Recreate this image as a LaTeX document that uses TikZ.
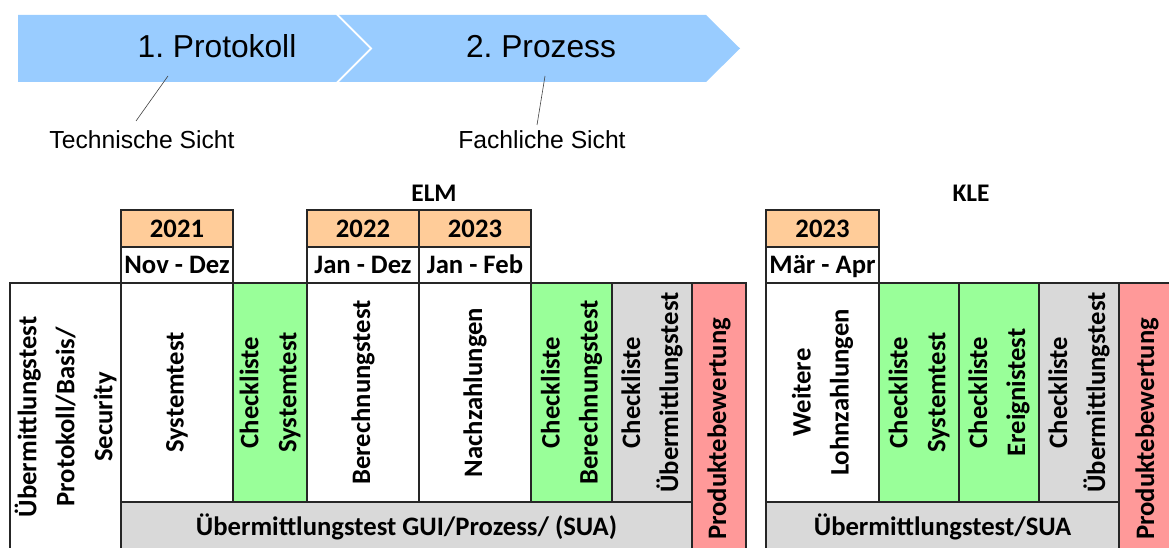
\documentclass[tikz,border=0pt]{standalone}
\usepackage{fontspec}
\setmainfont{Carlito}
\newfontfamily\arialf{Liberation Sans}
\definecolor{chevblue}{HTML}{99CCFF}
\definecolor{yearfill}{HTML}{FFCC99}
\definecolor{greenfill}{HTML}{99FF99}
\definecolor{grayfill}{HTML}{D9D9D9}
\definecolor{redfill}{HTML}{FF9999}
\definecolor{gridline}{HTML}{262626}
\newcommand{\cellbox}[7]{%
  \draw[#1] (#2,-#3) rectangle (#4,-#5);
  \node[#6] (#7) at ({(#2+#4)/2},{-(#3+#5)/2})}
\begin{document}
\frenchspacing
\begin{tikzpicture}[x=0.75pt,y=0.75pt,
  grid/.style={draw=gridline, line width=1pt},
  whitec/.style={grid, fill=white},
  yearc/.style={grid, fill=yearfill},
  greenc/.style={grid, fill=greenfill},
  grayc/.style={grid, fill=grayfill},
  redc/.style={grid, fill=redfill},
  chev/.style={fill=chevblue},
  vtext/.style={rotate=90, align=center, inner sep=0pt,
    font=\bfseries\fontsize{20}{28.5}\selectfont},
  htext/.style={align=center, inner sep=0pt, text height=12.9pt, text depth=0pt,
    font=\bfseries\fontsize{20}{24}\selectfont},
  lbl/.style={inner sep=0pt, anchor=base, font=\bfseries\fontsize{19}{22}\selectfont},
  chevtext/.style={inner sep=0pt, anchor=base, font=\arialf\fontsize{23.8}{28}\selectfont},
  sichttext/.style={inner sep=0pt, anchor=base, font=\arialf\fontsize{18.5}{22}\selectfont},
  leader/.style={draw=black!75, line width=0.45pt}
]
\useasboundingbox (0,0) rectangle (1169,-548);
\clip (0,0) rectangle (1169,-548);

% chevrons
\fill[chev] (18,-15) -- (336,-15) -- (369.5,-48.5) -- (336,-82) -- (18,-82) -- cycle;
\fill[chev] (339,-15) -- (706,-15) -- (740,-48.5) -- (706,-82) -- (339,-82) -- (372.5,-48.5) -- cycle;
\node[chevtext] (p1) at (217,-57.7) {1. Protokoll};
\node[chevtext] (p2) at (541,-57.7) {2. Prozess};
\node[sichttext] (tech) at (142,-148.5) {Technische Sicht};
\node[sichttext] (fach) at (542,-148.5) {Fachliche Sicht};
\coordinate (l1a) at (168,-76);
\coordinate (l1b) at (136,-121);
\coordinate (l2a) at (545,-76);
\coordinate (l2b) at (537,-125);
\draw[leader] (l1a) -- (l1b);
\draw[leader] (l2a) -- (l2b);

% group labels
\node[lbl] (elm) at (434,-202) {ELM};
\node[lbl] (kle) at (971,-202) {KLE};

% ELM header
\cellbox{yearc}{121}{210}{233}{247}{htext}{y2021} {2021};
\cellbox{whitec}{121}{247}{233}{283}{htext}{m2021} {Nov - Dez};
\cellbox{yearc}{307}{210}{419}{247}{htext}{y2022} {2022};
\cellbox{yearc}{419}{210}{531}{247}{htext}{y2023a} {2023};
\cellbox{whitec}{307}{247}{419}{283}{htext}{m2022} {Jan - Dez};
\cellbox{whitec}{419}{247}{531}{283}{htext}{m2023a} {Jan - Feb};

% ELM body
\cellbox{whitec}{10}{283}{121}{551}{vtext}{ueb} {Übermittlungstest\\Protokoll/Basis/\\Security};
\cellbox{whitec}{121}{283}{233}{502}{vtext}{sys} {Systemtest};
\cellbox{greenc}{233}{283}{307}{502}{vtext}{cls} {Checkliste\\Systemtest};
\cellbox{whitec}{307}{283}{419}{502}{vtext}{ber} {Berechnungstest};
\cellbox{whitec}{419}{283}{531}{502}{vtext}{nach} {Nachzahlungen};
\cellbox{greenc}{531}{283}{612}{502}{vtext}{clb} {Checkliste\\Berechnungstest};
\cellbox{grayc}{612}{283}{692}{502}{vtext}{clu} {Checkliste\\Übermittlungstest};
\cellbox{redc}{692}{283}{746}{575}{vtext}{prod} {Produktebewertung};
\cellbox{grayc}{121}{502}{692}{552}{htext}{band} {Übermittlungstest GUI/Prozess/ (SUA)};

% KLE
\cellbox{yearc}{766}{210}{879}{247}{htext}{y2023b} {2023};
\cellbox{whitec}{766}{247}{879}{283}{htext}{m2023b} {Mär - Apr};
\cellbox{whitec}{766}{283}{879}{502}{vtext}{weit} {Weitere\\Lohnzahlungen};
\cellbox{greenc}{879}{283}{959}{502}{vtext}{cls2} {Checkliste\\Systemtest};
\cellbox{greenc}{959}{283}{1039}{502}{vtext}{cle} {Checkliste\\Ereignistest};
\cellbox{grayc}{1039}{283}{1119}{502}{vtext}{clu2} {Checkliste\\Übermittlungstest};
\cellbox{redc}{1119}{283}{1175}{575}{vtext}{prod2} {Produktebewertung};
\cellbox{grayc}{766}{502}{1119}{552}{htext}{band2} {Übermittlungstest/SUA};
\end{tikzpicture}
\end{document}
